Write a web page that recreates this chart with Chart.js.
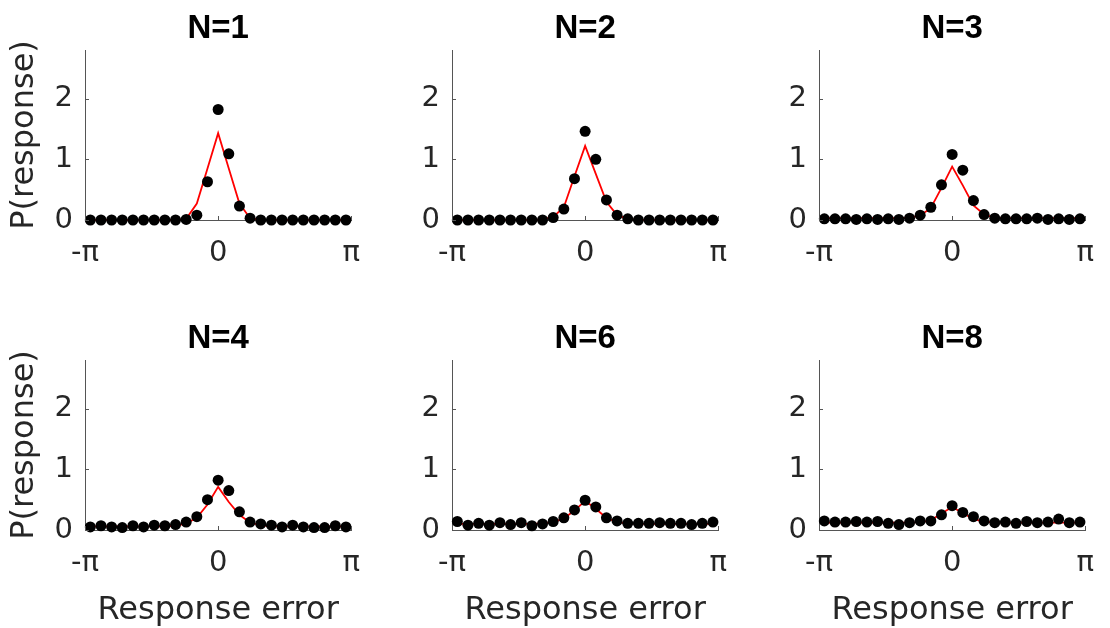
<!DOCTYPE html>
<html lang="en">
<head>
<meta charset="UTF-8">
<title>P(response) by set size</title>
<style>
  html, body { margin: 0; padding: 0; background: #fff; }
  #wrap { position: relative; width: 1110px; height: 628px; overflow: hidden; }
  #wrap canvas { position: absolute; }
</style>
</head>
<body>
<div id="wrap"></div>

<script src="https://cdn.jsdelivr.net/npm/chart.js"></script>
<script>
// set sizes shown in the panel titles
const panelTitles = ['N=1', 'N=2', 'N=3', 'N=4', 'N=6', 'N=8'];

// 25 response-error bins over [-pi, pi]
const nBins = 25;
const binCenters = Array.from({ length: nBins }, (_, i) => -Math.PI + (i + 0.5) * 2 * Math.PI / nBins);

// observed proportions (black dots)
const dataN1 = [0, 0, 0, 0, 0, 0, 0, 0, 0, 0.01, 0.08, 0.63, 1.82, 1.09, 0.23, 0.03, 0, 0, 0, 0, 0, 0, 0, 0, 0];
const dataN2 = [0, 0, 0, 0, 0, 0, 0, 0, 0, 0.04, 0.18, 0.68, 1.46, 1.00, 0.33, 0.08, 0.02, 0, 0, 0, 0, 0, 0, 0, 0];
const dataN3 = [0.02, 0.02, 0.02, 0.01, 0.02, 0.01, 0.02, 0.01, 0.03, 0.08, 0.21, 0.58, 1.08, 0.82, 0.32, 0.09, 0.03, 0.02, 0.02, 0.02, 0.03, 0.01, 0.02, 0.01, 0.02];
const dataN4 = [0.05, 0.07, 0.05, 0.04, 0.07, 0.05, 0.08, 0.07, 0.09, 0.13, 0.22, 0.50, 0.82, 0.65, 0.30, 0.13, 0.10, 0.08, 0.05, 0.08, 0.05, 0.04, 0.04, 0.07, 0.05];
const dataN6 = [0.14, 0.08, 0.11, 0.08, 0.12, 0.09, 0.12, 0.07, 0.10, 0.14, 0.20, 0.33, 0.49, 0.38, 0.20, 0.15, 0.11, 0.11, 0.11, 0.12, 0.11, 0.11, 0.09, 0.11, 0.13];
const dataN8 = [0.15, 0.13, 0.13, 0.14, 0.13, 0.14, 0.11, 0.09, 0.12, 0.15, 0.15, 0.25, 0.40, 0.29, 0.22, 0.15, 0.12, 0.13, 0.11, 0.14, 0.12, 0.13, 0.18, 0.12, 0.13];

// model fit (red line)
const modelN1 = [0, 0, 0, 0, 0, 0, 0, 0, 0, 0.02, 0.27, 0.85, 1.43, 0.85, 0.27, 0.03, 0, 0, 0, 0, 0, 0, 0, 0, 0];
const modelN2 = [0, 0, 0, 0, 0, 0, 0, 0, 0.01, 0.05, 0.21, 0.72, 1.22, 0.76, 0.30, 0.08, 0.02, 0, 0, 0, 0, 0, 0, 0, 0];
const modelN3 = [0.03, 0.03, 0.03, 0.03, 0.03, 0.03, 0.03, 0.03, 0.04, 0.07, 0.20, 0.53, 0.88, 0.57, 0.24, 0.09, 0.04, 0.03, 0.03, 0.03, 0.03, 0.03, 0.03, 0.03, 0.03];
const modelN4 = [0.06, 0.06, 0.06, 0.06, 0.06, 0.06, 0.06, 0.06, 0.07, 0.11, 0.20, 0.42, 0.71, 0.46, 0.25, 0.12, 0.08, 0.06, 0.06, 0.06, 0.06, 0.06, 0.06, 0.06, 0.06];
const modelN6 = [0.10, 0.10, 0.10, 0.10, 0.10, 0.10, 0.10, 0.10, 0.11, 0.13, 0.19, 0.32, 0.48, 0.35, 0.20, 0.13, 0.11, 0.10, 0.10, 0.10, 0.10, 0.10, 0.10, 0.10, 0.10];
const modelN8 = [0.12, 0.12, 0.12, 0.12, 0.12, 0.12, 0.12, 0.12, 0.12, 0.13, 0.16, 0.27, 0.38, 0.28, 0.18, 0.14, 0.12, 0.12, 0.12, 0.12, 0.12, 0.12, 0.12, 0.12, 0.12];

// ticks
const xTickValues = [-Math.PI, 0, Math.PI];
const xTickLabels = ['-π', '0', 'π'];
const yTickValues = [0, 1, 2];
const yMax = 2.8;

const observed = [dataN1, dataN2, dataN3, dataN4, dataN6, dataN8];
const modelFit = [modelN1, modelN2, modelN3, modelN4, modelN6, modelN8];

const BOLD_FONT = "'Liberation Sans', Arial, Helvetica, sans-serif";
const FONT = "'DejaVu Sans', 'Liberation Sans', Arial, sans-serif";
const INK = '#262626';

// MATLAB-style inward tick marks
const inwardTicks = {
    id: 'inwardTicks',
    afterDraw(chart) {
        const { ctx, chartArea, scales } = chart;
        ctx.save();
        ctx.strokeStyle = '#555';
        ctx.lineWidth = 1;
        ctx.beginPath();
        xTickValues.forEach(v => {
            const px = Math.round(scales.x.getPixelForValue(v)) + 0.5;
            ctx.moveTo(px, chartArea.bottom);
            ctx.lineTo(px, chartArea.bottom - 4);
        });
        yTickValues.forEach(v => {
            const py = Math.round(scales.y.getPixelForValue(v)) + 0.5;
            ctx.moveTo(chartArea.left, py);
            ctx.lineTo(chartArea.left + 4, py);
        });
        ctx.stroke();
        ctx.restore();
    }
};

const colLeft = [0, 367, 734];
const rowTop = [0, 310];
const rowHeight = [280, 318];
const xAxisHeight = [60, 98];

function makePanel(i) {
    const col = i % 3;
    const row = Math.floor(i / 3);
    const canvas = document.createElement('canvas');
    canvas.width = 376;
    canvas.height = rowHeight[row];
    canvas.style.left = colLeft[col] + 'px';
    canvas.style.top = rowTop[row] + 'px';
    document.getElementById('wrap').appendChild(canvas);

    const dots = binCenters.map((x, k) => ({ x: x, y: observed[i][k] }));
    const fit = binCenters.map((x, k) => ({ x: x, y: modelFit[i][k] }));

    new Chart(canvas.getContext('2d'), {
        type: 'scatter',
        data: {
            datasets: [
                {
                    label: 'Data',
                    data: dots,
                    order: 0,
                    backgroundColor: '#000',
                    borderWidth: 0,
                    pointRadius: 5.5,
                    clip: false
                },
                {
                    label: 'Model',
                    type: 'line',
                    data: fit,
                    order: 1,
                    borderColor: '#ff0000',
                    borderWidth: 1.8,
                    pointRadius: 0,
                    tension: 0,
                    fill: false,
                    clip: false
                }
            ]
        },
        options: {
            responsive: false,
            animation: false,
            events: [],
            layout: { padding: { left: 0, right: 13, top: 0, bottom: 0 } },
            plugins: {
                legend: { display: false },
                tooltip: { enabled: false },
                title: {
                    display: true,
                    text: panelTitles[i],
                    fullSize: false,
                    color: '#000',
                    font: { family: BOLD_FONT, size: 33, weight: 'bold', lineHeight: 1.2 },
                    padding: { top: 9, bottom: 1.4 }
                }
            },
            scales: {
                x: {
                    type: 'linear',
                    min: -Math.PI,
                    max: Math.PI,
                    afterBuildTicks: s => { s.ticks = xTickValues.map(v => ({ value: v })); },
                    afterFit: s => { s.height = xAxisHeight[row]; },
                    grid: { display: false, drawTicks: false },
                    border: { display: true, color: '#555', width: 1 },
                    ticks: {
                        autoSkip: false,
                        maxRotation: 0,
                        padding: 16,
                        color: INK,
                        font: { family: FONT, size: 29, lineHeight: 1.2 },
                        callback: (v, idx) => xTickLabels[idx]
                    },
                    title: {
                        display: row === 1,
                        text: 'Response error',
                        color: INK,
                        font: { family: FONT, size: 32, lineHeight: 1 },
                        padding: { top: 0, bottom: 1 }
                    }
                },
                y: {
                    type: 'linear',
                    min: 0,
                    max: yMax,
                    afterBuildTicks: s => { s.ticks = yTickValues.map(v => ({ value: v })); },
                    afterFit: s => { s.width = 85; },
                    grid: { display: false, drawTicks: false },
                    border: { display: true, color: '#555', width: 1 },
                    ticks: {
                        padding: 12,
                        color: INK,
                        font: { family: FONT, size: 29, lineHeight: 1.2 },
                        callback: v => String(v)
                    },
                    title: {
                        display: col === 0,
                        text: 'P(response)',
                        color: INK,
                        font: { family: FONT, size: 32, lineHeight: 1 },
                        padding: { top: 9, bottom: 0 }
                    }
                }
            }
        },
        plugins: [inwardTicks]
    });
}

for (let i = 0; i < panelTitles.length; i++) makePanel(i);
</script>
</body>
</html>
